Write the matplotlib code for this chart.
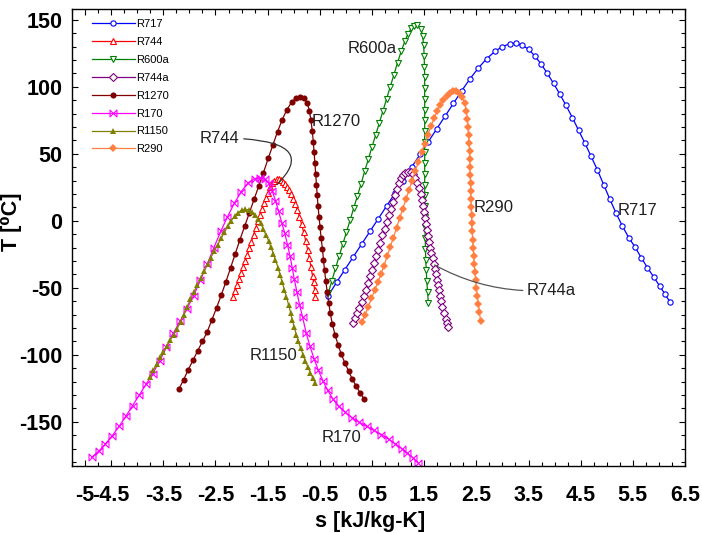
# -*- coding: utf-8 -*-
# T-s saturation domes of natural refrigerants
import numpy as np
import matplotlib.pyplot as plt
from matplotlib.path import Path

plt.rcParams['font.family'] = ['Liberation Sans', 'DejaVu Sans']
plt.rcParams['axes.unicode_minus'] = False

#########################
# Saturation line data  #
# s [kJ/kg-K], T [C]    #
#########################
s_r717 = [-0.34, -0.18, -0.02, 0.14, 0.30, 0.46, 0.62, 0.78, 0.94, 1.10, 1.26, 1.42, 1.58, 1.74,
          1.90, 2.06, 2.22, 2.38, 2.54, 2.70, 2.86, 3.00, 3.14, 3.26,
          3.38, 3.50, 3.62, 3.74, 3.86, 3.98, 4.10, 4.22, 4.34, 4.46, 4.58, 4.70, 4.82, 4.94,
          5.06, 5.18, 5.30, 5.42, 5.54, 5.66, 5.78, 5.90, 6.02, 6.12, 6.21]
t_r717 = [-56, -46, -36.5, -27, -17.5, -8, 1.5, 11, 20.5, 30, 40, 49.5, 59, 68.5,
          78, 87.5, 97, 106, 114, 121, 126.5, 130, 132, 132.5,
          131, 128, 123, 117, 110, 102.5, 94.5, 86, 77, 67.5, 58, 48, 38, 27,
          16, 5.5, -4, -12.5, -19.5, -27.5, -35, -42, -49, -55, -60.5]

s_r744 = [-2.17, -2.13, -2.09, -2.05, -2.01, -1.97, -1.93, -1.89, -1.85, -1.81, -1.77, -1.73,
          -1.69, -1.65, -1.61, -1.57, -1.53, -1.49, -1.45, -1.41, -1.37, -1.33,
          -1.29, -1.25, -1.21, -1.17, -1.13, -1.09, -1.05, -1.01, -0.97, -0.93, -0.89, -0.85,
          -0.81, -0.77, -0.73, -0.70, -0.67, -0.64, -0.62, -0.60, -0.59]
t_r744 = [-57, -52.5, -48, -43.5, -39, -34.5, -30, -25.5, -20.5, -15.5, -10.5, -5.5,
          -0.5, 4, 8.5, 13, 17, 21, 25, 28, 30, 30.8,
          30.8, 30.2, 29, 27.5, 25.5, 23, 20, 16.5, 12.5, 8, 3, -2.5,
          -8.5, -15, -22, -28, -34.5, -41, -46, -51.5, -57]

s_r600a = [-0.34, -0.27, -0.20, -0.13, -0.06, 0.01, 0.08, 0.15, 0.22, 0.29, 0.36, 0.43, 0.50,
           0.57, 0.64, 0.71, 0.78, 0.85, 0.92, 0.99, 1.06, 1.13, 1.19, 1.25, 1.31, 1.37,
           1.44, 1.47, 1.49, 1.50, 1.505, 1.51, 1.51, 1.51, 1.51, 1.51, 1.51, 1.51, 1.51,
           1.51, 1.51, 1.51, 1.51, 1.51, 1.51, 1.515, 1.52, 1.525, 1.53, 1.54, 1.55, 1.565, 1.58]
t_r600a = [-54, -45, -35.5, -26.5, -17.5, -8.5, 0.5, 9.5, 18.5, 27.5, 37, 46, 55,
           64, 73, 82, 91, 100, 109, 118, 126.5, 134, 139.5, 143.5, 145.5, 146,
           143, 138, 131, 123, 115, 107, 99, 91, 83, 75, 67, 59, 51,
           43, 35, 27, 19, 11, 3, -5, -13, -21, -29, -37, -45, -53, -61]

s_r744a = [0.14, 0.18, 0.22, 0.26, 0.30, 0.34, 0.38, 0.42, 0.46, 0.50, 0.54, 0.58, 0.62, 0.66,
           0.70, 0.74, 0.78, 0.82, 0.86, 0.90, 0.94, 0.98, 1.02, 1.06, 1.10, 1.14, 1.19, 1.24,
           1.28, 1.32, 1.36, 1.40, 1.43, 1.46, 1.48, 1.50, 1.52, 1.54, 1.56, 1.58, 1.60, 1.62,
           1.64, 1.66, 1.68, 1.70, 1.72, 1.74, 1.76, 1.78, 1.80, 1.82, 1.85, 1.88, 1.91, 1.94, 1.96]
t_r744a = [-76, -72.5, -69, -65, -60.5, -56, -51.5, -46.5, -41.5, -36.5, -31.5, -26.5, -21.5, -16.5,
           -11, -6, -1, 4, 9, 14, 19, 24, 28.5, 32, 34.5, 36, 36.7, 36.5,
           35, 32, 28.5, 24.5, 20, 15.5, 11, 6.5, 2, -2.5, -7, -11.5, -16, -20,
           -24, -28, -32, -36, -40, -44, -48, -52, -56, -60, -64.5, -69, -73, -76.5, -79]

s_r1270 = [-3.20, -3.11, -3.02, -2.93, -2.84, -2.75, -2.66, -2.57, -2.48, -2.39, -2.30, -2.21,
           -2.12, -2.03, -1.94, -1.85, -1.76, -1.67, -1.58, -1.49, -1.40, -1.31, -1.22, -1.13,
           -1.04, -0.96, -0.88,
           -0.80, -0.74, -0.70, -0.67, -0.645, -0.625, -0.61, -0.595, -0.58, -0.565, -0.55, -0.535,
           -0.515, -0.495, -0.475, -0.45, -0.43, -0.41, -0.385, -0.36, -0.33, -0.30, -0.26, -0.21,
           -0.15, -0.09, -0.02, 0.05, 0.12, 0.20, 0.27, 0.35]
t_r1270 = [-125.5, -118.5, -111, -104, -97, -90, -83, -74, -65, -55.5, -45.5, -35,
           -24.5, -14, -4, 6, 16, 26, 36, 46.5, 56.5, 66.5, 75.5, 83,
           88.5, 91.5, 92.3,
           91.5, 88, 82, 75, 67, 59, 51, 43, 35, 27, 19, 11,
           3, -5, -13, -21, -29, -37, -45, -53, -61, -69, -77, -85,
           -92.5, -99.5, -106, -112, -118, -123.5, -128.5, -133]

s_r170 = [-4.87, -4.74, -4.61, -4.48, -4.35, -4.22, -4.09, -3.96, -3.83, -3.70, -3.57, -3.44,
          -3.31, -3.18, -3.05, -2.92, -2.79, -2.66, -2.53, -2.40, -2.27, -2.14, -2.01, -1.88,
          -1.75, -1.64,
          -1.56, -1.48, -1.41, -1.35, -1.29, -1.23, -1.17, -1.12, -1.07, -1.03, -0.99, -0.94,
          -0.89, -0.83, -0.76, -0.69, -0.61, -0.53, -0.44, -0.35, -0.25, -0.14, -0.01, 0.12,
          0.26, 0.40, 0.54, 0.68, 0.82, 0.95, 1.07, 1.18, 1.29, 1.38]
t_r170 = [-176.5, -172, -166.5, -160.5, -153.5, -146, -138, -130, -122, -114, -104.5, -94.5,
          -84, -75, -66, -56, -44.5, -32.5, -20, -8, 3, 13, 21.5, 28,
          31.5, 32,
          31, 28, 22, 15, 7, -1.5, -9.5, -18, -26.5, -35, -43.5, -53,
          -62.5, -72, -84, -93.5, -103, -111.5, -119.5, -126.5, -133, -138.5, -143, -147,
          -150.5, -153.5, -156.5, -159.5, -163, -166.5, -170, -173.5, -177, -180.5]

s_r1150 = [-3.76, -3.69, -3.63, -3.56, -3.50, -3.43, -3.37, -3.30, -3.24, -3.17, -3.11, -3.04,
           -2.98, -2.91, -2.85, -2.78, -2.72, -2.65, -2.59, -2.52, -2.46, -2.39, -2.33, -2.26,
           -2.20, -2.13, -2.07, -2.00, -1.93, -1.86,
           -1.80, -1.74, -1.68, -1.63, -1.58, -1.53, -1.48, -1.44, -1.39, -1.35, -1.30, -1.26,
           -1.22, -1.18, -1.14, -1.10, -1.06, -1.03, -0.99, -0.95, -0.91, -0.87, -0.82, -0.78,
           -0.73, -0.68, -0.63, -0.59]
t_r1150 = [-116.5, -111.5, -107, -102, -98, -93.5, -89, -85, -81, -75.5, -70, -64,
           -58.5, -53, -48, -42.5, -37.5, -32.5, -27.5, -22.5, -18, -13, -8.5, -4,
           0, 3.5, 6, 7.8, 8.5, 8,
           6.5, 4.5, 1.5, -2, -6.5, -11, -15, -19.5, -24.5, -29.5, -35, -40.5,
           -46, -51.5, -57, -62.5, -68.5, -74, -79.5, -85, -90, -95, -100, -104.5,
           -109, -113.5, -117.5, -121]

s_r290 = [0.31, 0.37, 0.43, 0.49, 0.55, 0.61, 0.67, 0.73, 0.79, 0.85, 0.91, 0.97, 1.03, 1.09,
          1.15, 1.21, 1.27, 1.33, 1.39, 1.45, 1.51, 1.57, 1.63, 1.69, 1.75, 1.81, 1.87, 1.93,
          1.99, 2.05,
          2.11, 2.17, 2.23, 2.28, 2.31, 2.33, 2.34, 2.35, 2.36, 2.37, 2.37, 2.38, 2.38, 2.39,
          2.39, 2.40, 2.40, 2.41, 2.41, 2.42, 2.43, 2.44, 2.45, 2.46, 2.47, 2.49, 2.50, 2.52,
          2.54, 2.56, 2.58]
t_r290 = [-75.5, -70, -64, -58, -52, -46, -40, -33.5, -26.5, -19.5, -12.5, -5.5, 2, 9,
          16, 23, 30, 37, 44, 51, 57.5, 64, 70.5, 76.5, 82, 86.5, 90, 93,
          95.5, 96.5,
          96.5, 95, 92, 87.5, 82, 76, 70, 64, 58, 52, 46, 40, 34, 28,
          22, 16, 10, 4, -2, -8, -14, -20, -26, -32, -38, -44, -50, -56,
          -62, -68, -75]

# sideways hourglass marker for R170
bowtie = Path([(-1, -1), (1, 1), (1, -1), (-1, 1), (-1, -1)],
              [Path.MOVETO, Path.LINETO, Path.LINETO, Path.LINETO, Path.CLOSEPOLY])

fig = plt.figure(figsize=(7.02, 5.33), dpi=100)
ax = fig.add_axes([0.1026, 0.1257, 0.8732, 0.8574])

lw = 0.9
ax.plot(s_r717, t_r717, color='#0000FF', lw=lw, marker='o', ms=3.8, mfc='white', mew=0.8, label='R717')
ax.plot(s_r744, t_r744, color='#FF0000', lw=lw, marker='^', ms=4.5, mfc='white', mew=0.8, label='R744')
ax.plot(s_r600a, t_r600a, color='#008000', lw=lw, marker='v', ms=4.5, mfc='white', mew=0.8, label='R600a')
ax.plot(s_r744a, t_r744a, color='#800080', lw=lw, marker='D', ms=3.6, mfc='white', mew=0.8, label='R744a')
ax.plot(s_r1270, t_r1270, color='#800000', lw=lw, marker='o', ms=4.4, mew=0, label='R1270')
ax.plot(s_r170, t_r170, color='#FF00FF', lw=lw, marker=bowtie, ms=5, mfc='none', mew=0.8, label='R170')
ax.plot(s_r1150, t_r1150, color='#808000', lw=lw, marker='^', ms=5, mew=0, label='R1150')
ax.plot(s_r290, t_r290, color='#FF8040', lw=lw, marker='D', ms=4, mew=0, label='R290')

# curve labels
txt = dict(fontsize=12, color='#202020', ha='left', va='center')
ax.text(-0.65, 73.7, 'R1270', **txt)
ax.text(0.04, 128.9, 'R600a', **txt)
ax.text(2.456, 10.2, 'R290', **txt)
ax.text(5.216, 8, 'R717', **txt)
ax.text(-1.84, -100.2, 'R1150', **txt)
ax.text(-0.458, -162, 'R170', **txt)
ax.annotate('R744', xy=(-1.32, 27), xytext=(-2.80, 61.7), **txt,
            arrowprops=dict(arrowstyle='-', color='#333333', lw=0.9, shrinkA=1, shrinkB=0,
                            connectionstyle='angle3,angleA=0,angleB=45'))
ax.annotate('R744a', xy=(1.70, -33), xytext=(3.47, -51.7), **txt,
            arrowprops=dict(arrowstyle='-', color='#555555', lw=0.9, shrinkA=1, shrinkB=0,
                            connectionstyle='arc3,rad=-0.15'))

ax.set_xlim(-5.25, 6.5)
ax.set_ylim(-183, 158)
ax.set_xticks([-5, -4.5, -3.5, -2.5, -1.5, -0.5, 0.5, 1.5, 2.5, 3.5, 4.5, 5.5, 6.5])
ax.set_xticklabels(['-5', '-4.5', '-3.5', '-2.5', '-1.5', '-0.5', '0.5', '1.5', '2.5',
                    '3.5', '4.5', '5.5', '6.5'])
ax.set_xticks(np.arange(-5.25, 6.51, 0.25), minor=True)
ax.set_yticks([-150, -100, -50, 0, 50, 100, 150])
ax.set_yticks(np.arange(-180, 151, 10), minor=True)
ax.tick_params(which='both', direction='in', top=True, right=True, width=0.8)
ax.tick_params(which='major', length=4.5, labelsize=15.5)
ax.tick_params(which='minor', length=3)
ax.tick_params(axis='x', which='major', pad=14)
ax.tick_params(axis='y', which='major', pad=7)
for lab in ax.get_xticklabels() + ax.get_yticklabels():
    lab.set_fontweight('bold')
for sp in ax.spines.values():
    sp.set_linewidth(1.0)

ax.set_xlabel('s [kJ/kg-K]', fontsize=15.5, fontweight='bold')
ax.set_ylabel('T [\u2070C]', fontsize=15.5, fontweight='bold')
ax.xaxis.set_label_coords(0.486, -0.098)
ax.yaxis.set_label_coords(-0.082, 0.534)

ax.legend(loc='upper left', bbox_to_anchor=(0.032, 0.978), frameon=False, fontsize=8,
          handlelength=3.9, handletextpad=0.1, labelspacing=0.71, borderaxespad=0,
          borderpad=0, numpoints=1)

fig.savefig('out.png', dpi=100)
